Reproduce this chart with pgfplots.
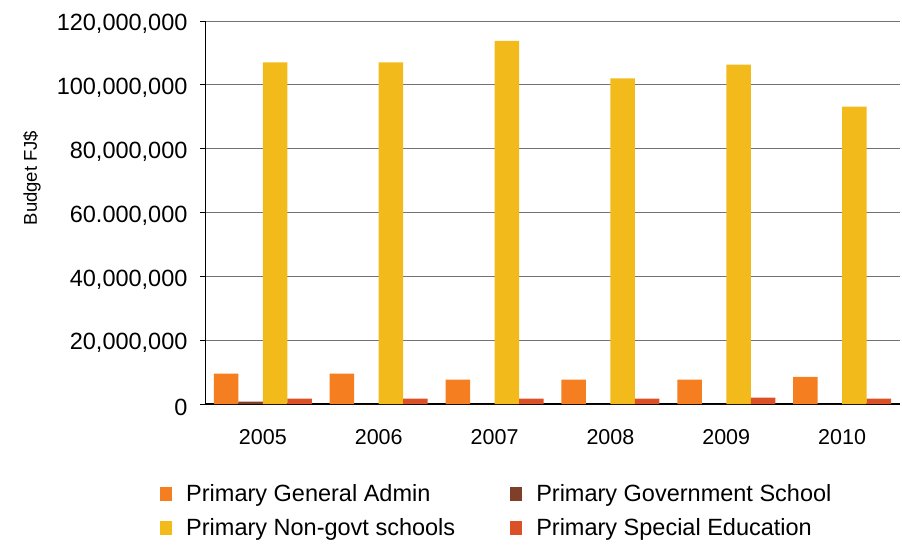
\documentclass[border=0pt]{standalone}
\usepackage{pgfplots}
\pgfplotsset{compat=1.18}
\usepackage{fontspec}
\setmainfont{Liberation Sans}
\definecolor{cGA}{HTML}{F47E20}
\definecolor{cGS}{HTML}{7F3F28}
\definecolor{cNG}{HTML}{F2BA1A}
\definecolor{cSE}{HTML}{DA5128}
\pgfplotsset{sqlegend/.style={legend image code/.code={\fill[##1,draw=none] (0pt,-7pt) rectangle (12pt,7pt);}}}
\begin{document}
\begin{tikzpicture}
\useasboundingbox (-205pt,-140pt) rectangle (697pt,404pt);
\begin{axis}[
  at={(0pt,0pt)}, anchor=south west,
  scale only axis, width=695pt, height=383pt,
  ybar=0pt, bar width=24.5pt,
  every axis plot post/.append style={sqlegend},
  xmin=-0.5, xmax=5.5, ymin=0, ymax=120000000,
  xtick={0,1,2,3,4,5}, xticklabels={2005,2006,2007,2008,2009,2010},
  ytick={0,20000000,40000000,60000000,80000000,100000000,120000000},
  yticklabels={0,{20,000,000},{40,000,000},{60.000,000},{80,000,000},{100,000,000},{120,000,000}},
  scaled y ticks=false,
  axis x line*=bottom, axis y line*=left,
  axis line style={black, line width=0.8pt, -},
  x axis line style={line width=1.4pt},
  ymajorgrids, major grid style={black!55, line width=0.9pt},
  xtick style={draw=none},
  ytick style={black, line width=0.8pt},
  tick align=outside, major tick length=5pt,
  xticklabel style={font=\fontsize{21.5}{24}\selectfont, yshift=-17pt},
  yticklabel style={font=\fontsize{23.5}{26}\selectfont, xshift=-9pt, yshift=-3pt},
  ylabel={Budget FJ\$},
  ylabel style={font=\fontsize{18.5}{22}\selectfont, at={(axis description cs:-0.2490,0.590)}, anchor=center},
  legend columns=2, legend cell align=left,
  legend style={draw=none, fill=none, inner sep=0pt, row sep=11pt,
    at={(axis description cs:-0.0647,-0.2050)}, anchor=north west,
    font=\fontsize{23.5}{28}\selectfont,
    nodes={inner sep=2pt},
    /tikz/every odd column/.append style={column sep=12pt},
    /tikz/every even column/.append style={column sep=53pt}},
]
\addplot[fill=cGA, draw=none] coordinates {(0,9500000) (1,9500000) (2,7600000) (3,7600000) (4,7600000) (5,8500000)};
\addlegendentry{Primary General Admin}
\addplot[fill=cGS, draw=none] coordinates {(0,750000) (1,0) (2,0) (3,0) (4,0) (5,0)};
\addlegendentry{Primary Government School}
\addplot[fill=cNG, draw=none] coordinates {(0,107000000) (1,107000000) (2,113800000) (3,102000000) (4,106300000) (5,93200000)};
\addlegendentry{Primary Non-govt schools}
\addplot[fill=cSE, draw=none] coordinates {(0,1700000) (1,1700000) (2,1700000) (3,1700000) (4,2000000) (5,1700000)};
\addlegendentry{Primary Special Education}
\end{axis}
\end{tikzpicture}
\end{document}
